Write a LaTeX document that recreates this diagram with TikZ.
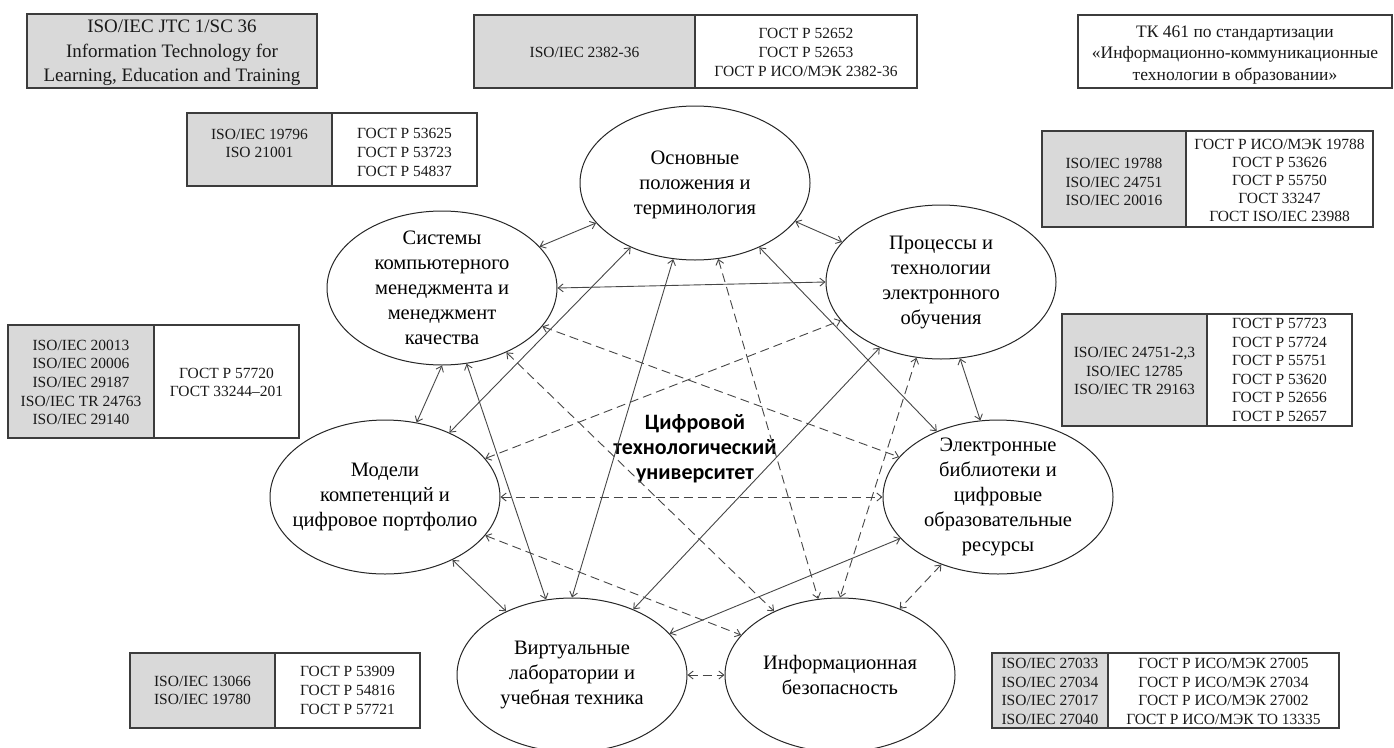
\documentclass[tikz,border=0pt]{standalone}
\usepackage{fontspec}
\setmainfont{Liberation Serif}
\newfontfamily\centerfont{Carlito}
\usetikzlibrary{arrows.meta,shapes.geometric}
\definecolor{boxgrey}{RGB}{217,217,217}
\definecolor{edgecol}{RGB}{60,60,60}
\definecolor{conncol}{RGB}{70,70,70}
\begin{document}
\begin{tikzpicture}[x=1pt,y=-1pt,
  >={Straight Barb[length=5pt,width=8pt]},
  cell/.style={draw=edgecol, line width=1.2pt, inner sep=0pt, outer sep=0pt},
  gcell/.style={cell, fill=boxgrey},
  ctext/.style={align=center, inner sep=0pt, text=black!90, yshift=-1pt, font=\fontsize{15.5}{18.6}\selectfont},
  ctextlow/.style={ctext, yshift=-2pt},
  ell/.style={ellipse, draw=black!85, line width=1pt, minimum width=230pt, minimum height=154pt, inner sep=0pt},
  elltext/.style={align=center, inner sep=0pt, font=\fontsize{20.5}{25}\selectfont},
  conn/.style={draw=conncol, line width=0.9pt, <->},
  dconn/.style={conn, dash pattern=on 9pt off 5pt},
]
\useasboundingbox (0,0) rectangle (1394,747);

% top boxes
\node[gcell, minimum width=290pt, minimum height=74pt,
  label={[ctext, yshift=-1pt, font=\fontsize{19}{24.5}\selectfont]center:{ISO/IEC JTC 1/SC 36\\Information Technology for\\Learning, Education and Training}}] (jtc) at (172,51) {};
\node[gcell, minimum width=221pt, minimum height=73pt,
  label={[ctext]center:{ISO/IEC 2382-36}}] (b2l) at (584.5,51.5) {};
\node[cell, minimum width=222pt, minimum height=73pt,
  label={[ctext]center:{ГОСТ Р 52652\\ГОСТ Р 52653\\ГОСТ Р ИСО/МЭК 2382-36}}] (b2r) at (806,51.5) {};
\node[cell, minimum width=314pt, minimum height=73pt,
  label={[ctext, yshift=-2.5pt, font=\fontsize{17.5}{21.3}\selectfont]center:{ТК 461 по стандартизации\\«Информационно-коммуникационные\\технологии в образовании»}}] (tk) at (1235,51.5) {};

% box 4
\node[gcell, minimum width=145pt, minimum height=73pt,
  label={[ctextlow]center:{ISO/IEC 19796\\ISO 21001\\\mbox{}}}] (b4l) at (259.5,149.5) {};
\node[cell, minimum width=145pt, minimum height=73pt,
  label={[ctextlow]center:{ГОСТ Р 53625\\ГОСТ Р 53723\\ГОСТ Р 54837}}] (b4r) at (404.5,149.5) {};

% box 5
\node[gcell, minimum width=144pt, minimum height=96pt,
  label={[ctextlow]center:{ISO/IEC 19788\\ISO/IEC 24751\\ISO/IEC 20016}}] (b5l) at (1114,179) {};
\node[cell, minimum width=187pt, minimum height=96pt,
  label={[ctext, yshift=-0.5pt, font=\fontsize{15.5}{18.1}\selectfont]center:{ГОСТ Р ИСО/МЭК 19788\\ГОСТ Р 53626\\ГОСТ Р 55750\\ГОСТ 33247\\ГОСТ ISO/IEC 23988}}] (b5r) at (1279.5,179) {};

% box 6
\node[gcell, minimum width=146pt, minimum height=113pt,
  label={[ctext]center:{ISO/IEC 20013\\ISO/IEC 20006\\ISO/IEC 29187\\ISO/IEC TR 24763\\ISO/IEC 29140}}] (b6l) at (81,381.5) {};
\node[cell, minimum width=145pt, minimum height=113pt,
  label={[ctext]center:{ГОСТ Р 57720\\ГОСТ 33244–201}}] (b6r) at (226.5,381.5) {};

% box 7
\node[gcell, minimum width=145pt, minimum height=112pt,
  label={[ctext]center:{ISO/IEC 24751-2,3\\ISO/IEC 12785\\ISO/IEC TR 29163}}] (b7l) at (1134.5,370) {};
\node[cell, minimum width=145pt, minimum height=112pt,
  label={[ctext, yshift=1pt, font=\fontsize{15.5}{18.6}\selectfont]center:{ГОСТ Р 57723\\ГОСТ Р 57724\\ГОСТ Р 55751\\ГОСТ Р 53620\\ГОСТ Р 52656\\ГОСТ Р 52657}}] (b7r) at (1279.5,370) {};

% box 8
\node[gcell, minimum width=145pt, minimum height=75pt,
  label={[ctext, yshift=1pt]center:{ISO/IEC 13066\\ISO/IEC 19780}}] (b8l) at (202.5,690.5) {};
\node[cell, minimum width=145pt, minimum height=75pt,
  label={[ctext, yshift=1pt]center:{ГОСТ Р 53909\\ГОСТ Р 54816\\ГОСТ Р 57721}}] (b8r) at (347.5,690.5) {};

% box 9
\node[gcell, minimum width=116pt, minimum height=75pt,
  label={[ctext]center:{ISO/IEC 27033\\ISO/IEC 27034\\ISO/IEC 27017\\ISO/IEC 27040}}] (b9l) at (1050,690.5) {};
\node[cell, minimum width=231pt, minimum height=75pt,
  label={[ctext]center:{ГОСТ Р ИСО/МЭК 27005\\ГОСТ Р ИСО/МЭК 27034\\ГОСТ Р ИСО/МЭК 27002\\ГОСТ Р ИСО/МЭК ТО 13335}}] (b9r) at (1223.5,690.5) {};

% ellipses
\node[ell] (A) at (695,183) {};
\node[ell] (B) at (442,288) {};
\node[ell] (C) at (941,282) {};
\node[ell] (D) at (385,497) {};
\node[ell] (E) at (998,497) {};
\node[ell] (F) at (572,675) {};
\node[ell] (G) at (840,675) {};

\node[elltext] (At) at (695,185) {Основные\\положения и\\терминология};
\node[elltext] (Bt) at (B) {Системы\\компьютерного\\менеджмента и\\менеджмент\\качества};
\node[elltext] (Ct) at (C) {Процессы и\\технологии\\электронного\\обучения};
\node[elltext] (Dt) at (D) {Модели\\компетенций и\\цифровое портфолио};
\node[elltext] (Et) at (E) {Электронные\\библиотеки и\\цифровые\\образовательные\\ресурсы};
\node[elltext] (Ft) at (F) {Виртуальные\\лаборатории и\\учебная техника};
\node[elltext] (Gt) at (G) {Информационная\\безопасность};

\node[align=center, inner sep=0pt, font=\centerfont\bfseries\fontsize{22}{25}\selectfont] (core) at (695,449)
  {Цифровой\\технологический\\университет};

% solid connectors
\draw[conn] (B.23) -- (A.202);
\draw[conn] (A.339) -- (C.158);
\draw[conn] (B.0) -- (C.180);
\draw[conn] (C.284) -- (E.103);
\draw[conn] (B.270) -- (D.67);
\draw[conn] (B.288) -- (F.109);
\draw[conn] (A.225) -- (D.45);
\draw[conn] (A.254) -- (F.90);
\draw[conn] (A.315) -- (E.133);
\draw[conn] (C.227) -- (F.47);
\draw[conn] (E.203) -- (F.23);
\draw[conn] (D.317) -- (F.136);
% dashed connectors
\draw[dconn] (B.339) -- (E.158);
\draw[dconn] (B.315) -- (G.136);
\draw[dconn] (D.21) -- (C.201);
\draw[dconn] (D.0) -- (E.180);
\draw[dconn] (D.339) -- (G.158);
\draw[dconn] (A.287) -- (G.106);
\draw[dconn] (C.252) -- (G.90);
\draw[dconn] (E.230) -- (G.48);
\draw[dconn] (F.0) -- (G.180);
\end{tikzpicture}
\end{document}
